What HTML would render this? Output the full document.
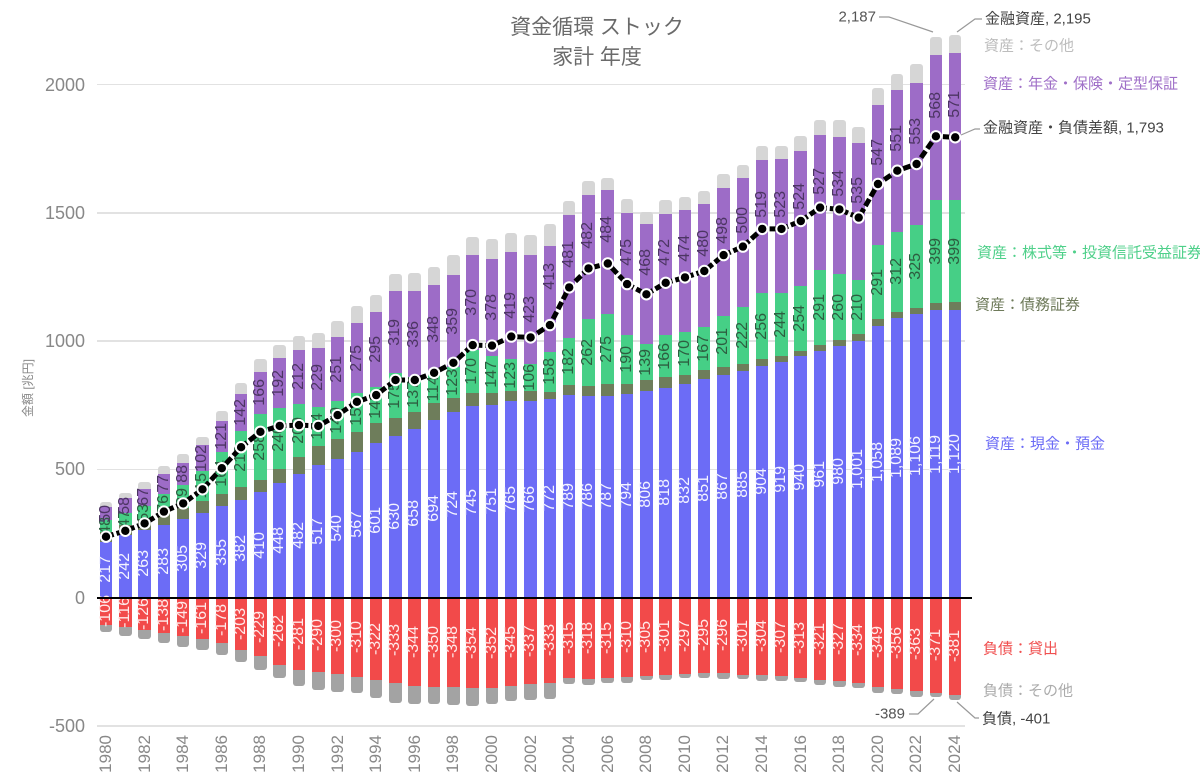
<!DOCTYPE html>
<html><head><meta charset="utf-8">
<style>
body{margin:0;background:#fff}
#c{position:relative;width:1200px;height:781px;overflow:hidden;font-family:"Liberation Sans","Noto Sans CJK JP",sans-serif;background:#fff}
.g{position:absolute;left:97px;width:868px;height:1.5px;background:#e2e2e2}
.yl{position:absolute;right:1115px;height:20px;line-height:20px;font-size:18px;color:#888;text-align:right;white-space:nowrap}
#row{position:absolute;left:96.35px;top:0;height:781px;display:flex}
.sl{position:relative;width:19.3px;height:781px;flex:none}
.p,.n{position:absolute;left:3.4px;width:12.5px;display:flex}
.p{bottom:183.5px;flex-direction:column-reverse}
.n{top:597.5px;flex-direction:column}
.s{height:calc(var(--v)*0.2565px);min-height:0;flex:none;display:flex;align-items:center;justify-content:center;overflow:visible}
.s span{writing-mode:vertical-rl;transform:rotate(180deg);font-size:16px;line-height:12.5px;white-space:nowrap;flex:none}
.s span.u{position:relative;top:-22px}
.c1{background:#6c6cf6;color:#f4f4ff}
.c2{background:#6e7d5b}
.c3{background:#46cf86;color:#2d5e40}
.c4{background:#9d6cc7;color:#4c3563}
.c5{background:#d6d6d6;border-radius:3px 3px 0 0}
.c6{background:#f24a4a;color:#ffeaea}
.c7{background:#a3a3a3;border-radius:0 0 3px 3px}
.xl{position:absolute;top:735px;left:0.65px;width:18px;writing-mode:vertical-rl;transform:rotate(180deg);font-size:17px;line-height:18px;color:#888;white-space:nowrap}
#zero{position:absolute;left:97px;top:596.5px;width:875px;height:2px;background:#000}
#title{position:absolute;left:397px;top:13px;width:400px;text-align:center;font-size:21px;line-height:30px;color:#6a6a6a}
#yt{position:absolute;left:-22px;top:380px;width:100px;text-align:center;font-size:12px;line-height:16px;color:#888;transform:rotate(-90deg)}
svg{position:absolute;left:0;top:0}
</style></head><body>
<div id="c">
<div class="g" style="top:83.75px"></div>
<div class="g" style="top:212px"></div>
<div class="g" style="top:340.25px"></div>
<div class="g" style="top:468.5px"></div>
<div class="g" style="top:725px"></div>
<div class="yl" style="top:74.5px">2000</div>
<div class="yl" style="top:202.75px">1500</div>
<div class="yl" style="top:331px">1000</div>
<div class="yl" style="top:459.25px">500</div>
<div class="yl" style="top:587.5px">0</div>
<div class="yl" style="top:715.75px">-500</div>
<div id="title">資金循環 ストック<br>家計 年度</div>
<div id="yt">金額 [兆円]</div>
<div id="row">
<div class="sl"><div class="p"><div class="s c1" style="--v:217"><span>217</span></div><div class="s c2" style="--v:38"></div><div class="s c3" style="--v:48"><span>48</span></div><div class="s c4" style="--v:50"><span>50</span></div><div class="s c5" style="--v:20"></div></div><div class="n"><div class="s c6" style="--v:106"><span>-106</span></div><div class="s c7" style="--v:30"></div></div><div class="xl">1980</div></div>
<div class="sl"><div class="p"><div class="s c1" style="--v:242"><span>242</span></div><div class="s c2" style="--v:40"></div><div class="s c3" style="--v:47"><span>47</span></div><div class="s c4" style="--v:58"><span>58</span></div><div class="s c5" style="--v:22"></div></div><div class="n"><div class="s c6" style="--v:116"><span>-116</span></div><div class="s c7" style="--v:33"></div></div></div>
<div class="sl"><div class="p"><div class="s c1" style="--v:263"><span>263</span></div><div class="s c2" style="--v:42"></div><div class="s c3" style="--v:53"><span>53</span></div><div class="s c4" style="--v:67"><span>67</span></div><div class="s c5" style="--v:26"></div></div><div class="n"><div class="s c6" style="--v:126"><span>-126</span></div><div class="s c7" style="--v:36"></div></div><div class="xl">1982</div></div>
<div class="sl"><div class="p"><div class="s c1" style="--v:283"><span>283</span></div><div class="s c2" style="--v:45"></div><div class="s c3" style="--v:76"><span>76</span></div><div class="s c4" style="--v:77"><span>77</span></div><div class="s c5" style="--v:32"></div></div><div class="n"><div class="s c6" style="--v:138"><span>-138</span></div><div class="s c7" style="--v:40"></div></div></div>
<div class="sl"><div class="p"><div class="s c1" style="--v:305"><span>305</span></div><div class="s c2" style="--v:43"></div><div class="s c3" style="--v:89"><span>89</span></div><div class="s c4" style="--v:88"><span>88</span></div><div class="s c5" style="--v:34"></div></div><div class="n"><div class="s c6" style="--v:149"><span>-149</span></div><div class="s c7" style="--v:43"></div></div><div class="xl">1984</div></div>
<div class="sl"><div class="p"><div class="s c1" style="--v:329"><span>329</span></div><div class="s c2" style="--v:48"></div><div class="s c3" style="--v:115"><span>115</span></div><div class="s c4" style="--v:102"><span>102</span></div><div class="s c5" style="--v:33"></div></div><div class="n"><div class="s c6" style="--v:161"><span>-161</span></div><div class="s c7" style="--v:44"></div></div></div>
<div class="sl"><div class="p"><div class="s c1" style="--v:355"><span>355</span></div><div class="s c2" style="--v:48"></div><div class="s c3" style="--v:164"><span>164</span></div><div class="s c4" style="--v:121"><span>121</span></div><div class="s c5" style="--v:39"></div></div><div class="n"><div class="s c6" style="--v:178"><span>-178</span></div><div class="s c7" style="--v:45"></div></div><div class="xl">1986</div></div>
<div class="sl"><div class="p"><div class="s c1" style="--v:382"><span>382</span></div><div class="s c2" style="--v:50"></div><div class="s c3" style="--v:218"><span>218</span></div><div class="s c4" style="--v:142"><span>142</span></div><div class="s c5" style="--v:45"></div></div><div class="n"><div class="s c6" style="--v:203"><span>-203</span></div><div class="s c7" style="--v:48"></div></div></div>
<div class="sl"><div class="p"><div class="s c1" style="--v:410"><span>410</span></div><div class="s c2" style="--v:47"></div><div class="s c3" style="--v:258"><span>258</span></div><div class="s c4" style="--v:166"><span>166</span></div><div class="s c5" style="--v:48"></div></div><div class="n"><div class="s c6" style="--v:229"><span>-229</span></div><div class="s c7" style="--v:54"></div></div><div class="xl">1988</div></div>
<div class="sl"><div class="p"><div class="s c1" style="--v:448"><span>448</span></div><div class="s c2" style="--v:52"></div><div class="s c3" style="--v:240"><span>240</span></div><div class="s c4" style="--v:192"><span>192</span></div><div class="s c5" style="--v:52"></div></div><div class="n"><div class="s c6" style="--v:262"><span>-262</span></div><div class="s c7" style="--v:53"></div></div></div>
<div class="sl"><div class="p"><div class="s c1" style="--v:482"><span>482</span></div><div class="s c2" style="--v:64"></div><div class="s c3" style="--v:209"><span>209</span></div><div class="s c4" style="--v:212"><span>212</span></div><div class="s c5" style="--v:52"></div></div><div class="n"><div class="s c6" style="--v:281"><span>-281</span></div><div class="s c7" style="--v:66"></div></div><div class="xl">1990</div></div>
<div class="sl"><div class="p"><div class="s c1" style="--v:517"><span>517</span></div><div class="s c2" style="--v:72"></div><div class="s c3" style="--v:154"><span>154</span></div><div class="s c4" style="--v:229"><span>229</span></div><div class="s c5" style="--v:58"></div></div><div class="n"><div class="s c6" style="--v:290"><span>-290</span></div><div class="s c7" style="--v:71"></div></div></div>
<div class="sl"><div class="p"><div class="s c1" style="--v:540"><span>540</span></div><div class="s c2" style="--v:77"></div><div class="s c3" style="--v:149"><span>149</span></div><div class="s c4" style="--v:251"><span>251</span></div><div class="s c5" style="--v:62"></div></div><div class="n"><div class="s c6" style="--v:300"><span>-300</span></div><div class="s c7" style="--v:68"></div></div><div class="xl">1992</div></div>
<div class="sl"><div class="p"><div class="s c1" style="--v:567"><span>567</span></div><div class="s c2" style="--v:79"></div><div class="s c3" style="--v:150"><span>150</span></div><div class="s c4" style="--v:275"><span>275</span></div><div class="s c5" style="--v:65"></div></div><div class="n"><div class="s c6" style="--v:310"><span>-310</span></div><div class="s c7" style="--v:63"></div></div></div>
<div class="sl"><div class="p"><div class="s c1" style="--v:601"><span>601</span></div><div class="s c2" style="--v:78"></div><div class="s c3" style="--v:140"><span>140</span></div><div class="s c4" style="--v:295"><span>295</span></div><div class="s c5" style="--v:65"></div></div><div class="n"><div class="s c6" style="--v:322"><span>-322</span></div><div class="s c7" style="--v:68"></div></div><div class="xl">1994</div></div>
<div class="sl"><div class="p"><div class="s c1" style="--v:630"><span>630</span></div><div class="s c2" style="--v:71"></div><div class="s c3" style="--v:175"><span>175</span></div><div class="s c4" style="--v:319"><span>319</span></div><div class="s c5" style="--v:65"></div></div><div class="n"><div class="s c6" style="--v:333"><span>-333</span></div><div class="s c7" style="--v:79"></div></div></div>
<div class="sl"><div class="p"><div class="s c1" style="--v:658"><span>658</span></div><div class="s c2" style="--v:64"></div><div class="s c3" style="--v:137"><span>137</span></div><div class="s c4" style="--v:336"><span>336</span></div><div class="s c5" style="--v:69"></div></div><div class="n"><div class="s c6" style="--v:344"><span>-344</span></div><div class="s c7" style="--v:72"></div></div><div class="xl">1996</div></div>
<div class="sl"><div class="p"><div class="s c1" style="--v:694"><span>694</span></div><div class="s c2" style="--v:63"></div><div class="s c3" style="--v:114"><span>114</span></div><div class="s c4" style="--v:348"><span>348</span></div><div class="s c5" style="--v:71"></div></div><div class="n"><div class="s c6" style="--v:350"><span>-350</span></div><div class="s c7" style="--v:64"></div></div></div>
<div class="sl"><div class="p"><div class="s c1" style="--v:724"><span>724</span></div><div class="s c2" style="--v:52"></div><div class="s c3" style="--v:123"><span>123</span></div><div class="s c4" style="--v:359"><span>359</span></div><div class="s c5" style="--v:77"></div></div><div class="n"><div class="s c6" style="--v:348"><span>-348</span></div><div class="s c7" style="--v:72"></div></div><div class="xl">1998</div></div>
<div class="sl"><div class="p"><div class="s c1" style="--v:745"><span>745</span></div><div class="s c2" style="--v:51"></div><div class="s c3" style="--v:170"><span>170</span></div><div class="s c4" style="--v:370"><span>370</span></div><div class="s c5" style="--v:71"></div></div><div class="n"><div class="s c6" style="--v:354"><span>-354</span></div><div class="s c7" style="--v:69"></div></div></div>
<div class="sl"><div class="p"><div class="s c1" style="--v:751"><span>751</span></div><div class="s c2" style="--v:45"></div><div class="s c3" style="--v:147"><span>147</span></div><div class="s c4" style="--v:378"><span>378</span></div><div class="s c5" style="--v:76"></div></div><div class="n"><div class="s c6" style="--v:352"><span>-352</span></div><div class="s c7" style="--v:63"></div></div><div class="xl">2000</div></div>
<div class="sl"><div class="p"><div class="s c1" style="--v:765"><span>765</span></div><div class="s c2" style="--v:40"></div><div class="s c3" style="--v:123"><span>123</span></div><div class="s c4" style="--v:419"><span>419</span></div><div class="s c5" style="--v:75"></div></div><div class="n"><div class="s c6" style="--v:345"><span>-345</span></div><div class="s c7" style="--v:60"></div></div></div>
<div class="sl"><div class="p"><div class="s c1" style="--v:766"><span>766</span></div><div class="s c2" style="--v:39"></div><div class="s c3" style="--v:106"><span>106</span></div><div class="s c4" style="--v:423"><span>423</span></div><div class="s c5" style="--v:79"></div></div><div class="n"><div class="s c6" style="--v:337"><span>-337</span></div><div class="s c7" style="--v:62"></div></div><div class="xl">2002</div></div>
<div class="sl"><div class="p"><div class="s c1" style="--v:772"><span>772</span></div><div class="s c2" style="--v:29"></div><div class="s c3" style="--v:158"><span>158</span></div><div class="s c4" style="--v:413"><span class="u">413</span></div><div class="s c5" style="--v:84"></div></div><div class="n"><div class="s c6" style="--v:333"><span>-333</span></div><div class="s c7" style="--v:61"></div></div></div>
<div class="sl"><div class="p"><div class="s c1" style="--v:789"><span>789</span></div><div class="s c2" style="--v:39"></div><div class="s c3" style="--v:182"><span>182</span></div><div class="s c4" style="--v:481"><span class="u">481</span></div><div class="s c5" style="--v:55"></div></div><div class="n"><div class="s c6" style="--v:315"><span>-315</span></div><div class="s c7" style="--v:22"></div></div><div class="xl">2004</div></div>
<div class="sl"><div class="p"><div class="s c1" style="--v:786"><span>786</span></div><div class="s c2" style="--v:39"></div><div class="s c3" style="--v:262"><span>262</span></div><div class="s c4" style="--v:482"><span class="u">482</span></div><div class="s c5" style="--v:55"></div></div><div class="n"><div class="s c6" style="--v:318"><span>-318</span></div><div class="s c7" style="--v:23"></div></div></div>
<div class="sl"><div class="p"><div class="s c1" style="--v:787"><span>787</span></div><div class="s c2" style="--v:44"></div><div class="s c3" style="--v:275"><span>275</span></div><div class="s c4" style="--v:484"><span class="u">484</span></div><div class="s c5" style="--v:45"></div></div><div class="n"><div class="s c6" style="--v:315"><span>-315</span></div><div class="s c7" style="--v:18"></div></div><div class="xl">2006</div></div>
<div class="sl"><div class="p"><div class="s c1" style="--v:794"><span>794</span></div><div class="s c2" style="--v:40"></div><div class="s c3" style="--v:190"><span>190</span></div><div class="s c4" style="--v:475"><span class="u">475</span></div><div class="s c5" style="--v:55"></div></div><div class="n"><div class="s c6" style="--v:310"><span>-310</span></div><div class="s c7" style="--v:22"></div></div></div>
<div class="sl"><div class="p"><div class="s c1" style="--v:806"><span>806</span></div><div class="s c2" style="--v:42"></div><div class="s c3" style="--v:139"><span>139</span></div><div class="s c4" style="--v:468"><span class="u">468</span></div><div class="s c5" style="--v:49"></div></div><div class="n"><div class="s c6" style="--v:305"><span>-305</span></div><div class="s c7" style="--v:17"></div></div><div class="xl">2008</div></div>
<div class="sl"><div class="p"><div class="s c1" style="--v:818"><span>818</span></div><div class="s c2" style="--v:40"></div><div class="s c3" style="--v:166"><span>166</span></div><div class="s c4" style="--v:472"><span class="u">472</span></div><div class="s c5" style="--v:54"></div></div><div class="n"><div class="s c6" style="--v:301"><span>-301</span></div><div class="s c7" style="--v:22"></div></div></div>
<div class="sl"><div class="p"><div class="s c1" style="--v:832"><span>832</span></div><div class="s c2" style="--v:35"></div><div class="s c3" style="--v:170"><span>170</span></div><div class="s c4" style="--v:474"><span class="u">474</span></div><div class="s c5" style="--v:52"></div></div><div class="n"><div class="s c6" style="--v:297"><span>-297</span></div><div class="s c7" style="--v:18"></div></div><div class="xl">2010</div></div>
<div class="sl"><div class="p"><div class="s c1" style="--v:851"><span>851</span></div><div class="s c2" style="--v:36"></div><div class="s c3" style="--v:167"><span>167</span></div><div class="s c4" style="--v:480"><span class="u">480</span></div><div class="s c5" style="--v:51"></div></div><div class="n"><div class="s c6" style="--v:295"><span>-295</span></div><div class="s c7" style="--v:17"></div></div></div>
<div class="sl"><div class="p"><div class="s c1" style="--v:867"><span>867</span></div><div class="s c2" style="--v:30"></div><div class="s c3" style="--v:201"><span>201</span></div><div class="s c4" style="--v:498"><span class="u">498</span></div><div class="s c5" style="--v:55"></div></div><div class="n"><div class="s c6" style="--v:296"><span>-296</span></div><div class="s c7" style="--v:20"></div></div><div class="xl">2012</div></div>
<div class="sl"><div class="p"><div class="s c1" style="--v:885"><span>885</span></div><div class="s c2" style="--v:27"></div><div class="s c3" style="--v:222"><span>222</span></div><div class="s c4" style="--v:500"><span class="u">500</span></div><div class="s c5" style="--v:52"></div></div><div class="n"><div class="s c6" style="--v:301"><span>-301</span></div><div class="s c7" style="--v:17"></div></div></div>
<div class="sl"><div class="p"><div class="s c1" style="--v:904"><span>904</span></div><div class="s c2" style="--v:26"></div><div class="s c3" style="--v:256"><span>256</span></div><div class="s c4" style="--v:519"><span class="u">519</span></div><div class="s c5" style="--v:56"></div></div><div class="n"><div class="s c6" style="--v:304"><span>-304</span></div><div class="s c7" style="--v:20"></div></div><div class="xl">2014</div></div>
<div class="sl"><div class="p"><div class="s c1" style="--v:919"><span>919</span></div><div class="s c2" style="--v:23"></div><div class="s c3" style="--v:244"><span>244</span></div><div class="s c4" style="--v:523"><span class="u">523</span></div><div class="s c5" style="--v:52"></div></div><div class="n"><div class="s c6" style="--v:307"><span>-307</span></div><div class="s c7" style="--v:17"></div></div></div>
<div class="sl"><div class="p"><div class="s c1" style="--v:940"><span>940</span></div><div class="s c2" style="--v:22"></div><div class="s c3" style="--v:254"><span>254</span></div><div class="s c4" style="--v:524"><span class="u">524</span></div><div class="s c5" style="--v:59"></div></div><div class="n"><div class="s c6" style="--v:313"><span>-313</span></div><div class="s c7" style="--v:18"></div></div><div class="xl">2016</div></div>
<div class="sl"><div class="p"><div class="s c1" style="--v:961"><span>961</span></div><div class="s c2" style="--v:23"></div><div class="s c3" style="--v:291"><span>291</span></div><div class="s c4" style="--v:527"><span class="u">527</span></div><div class="s c5" style="--v:60"></div></div><div class="n"><div class="s c6" style="--v:321"><span>-321</span></div><div class="s c7" style="--v:21"></div></div></div>
<div class="sl"><div class="p"><div class="s c1" style="--v:980"><span>980</span></div><div class="s c2" style="--v:23"></div><div class="s c3" style="--v:260"><span>260</span></div><div class="s c4" style="--v:534"><span class="u">534</span></div><div class="s c5" style="--v:65"></div></div><div class="n"><div class="s c6" style="--v:327"><span>-327</span></div><div class="s c7" style="--v:22"></div></div><div class="xl">2018</div></div>
<div class="sl"><div class="p"><div class="s c1" style="--v:1001"><span>1,001</span></div><div class="s c2" style="--v:25"></div><div class="s c3" style="--v:210"><span>210</span></div><div class="s c4" style="--v:535"><span class="u">535</span></div><div class="s c5" style="--v:62"></div></div><div class="n"><div class="s c6" style="--v:334"><span>-334</span></div><div class="s c7" style="--v:18"></div></div></div>
<div class="sl"><div class="p"><div class="s c1" style="--v:1058"><span>1,058</span></div><div class="s c2" style="--v:26"></div><div class="s c3" style="--v:291"><span>291</span></div><div class="s c4" style="--v:547"><span class="u">547</span></div><div class="s c5" style="--v:63"></div></div><div class="n"><div class="s c6" style="--v:349"><span>-349</span></div><div class="s c7" style="--v:24"></div></div><div class="xl">2020</div></div>
<div class="sl"><div class="p"><div class="s c1" style="--v:1089"><span>1,089</span></div><div class="s c2" style="--v:26"></div><div class="s c3" style="--v:312"><span>312</span></div><div class="s c4" style="--v:551"><span class="u">551</span></div><div class="s c5" style="--v:63"></div></div><div class="n"><div class="s c6" style="--v:356"><span>-356</span></div><div class="s c7" style="--v:21"></div></div></div>
<div class="sl"><div class="p"><div class="s c1" style="--v:1106"><span>1,106</span></div><div class="s c2" style="--v:23"></div><div class="s c3" style="--v:325"><span>325</span></div><div class="s c4" style="--v:553"><span class="u">553</span></div><div class="s c5" style="--v:72"></div></div><div class="n"><div class="s c6" style="--v:363"><span>-363</span></div><div class="s c7" style="--v:26"></div></div><div class="xl">2022</div></div>
<div class="sl"><div class="p"><div class="s c1" style="--v:1119"><span>1,119</span></div><div class="s c2" style="--v:30"></div><div class="s c3" style="--v:399"><span>399</span></div><div class="s c4" style="--v:568"><span class="u">568</span></div><div class="s c5" style="--v:71"></div></div><div class="n"><div class="s c6" style="--v:371"><span>-371</span></div><div class="s c7" style="--v:18"></div></div></div>
<div class="sl"><div class="p"><div class="s c1" style="--v:1120"><span>1,120</span></div><div class="s c2" style="--v:32"></div><div class="s c3" style="--v:399"><span>399</span></div><div class="s c4" style="--v:571"><span class="u">571</span></div><div class="s c5" style="--v:73"></div></div><div class="n"><div class="s c6" style="--v:381"><span>-381</span></div><div class="s c7" style="--v:20"></div></div><div class="xl">2024</div></div>
</div>
<div id="zero"></div>
<svg width="1200" height="781" viewBox="0 0 1200 781" font-family="Liberation Sans, Noto Sans CJK JP, sans-serif">
<polyline fill="none" stroke="#000" stroke-width="5" stroke-dasharray="8,3" points="106,536.7 125.3,530.8 144.6,523.4 163.9,511.6 183.2,503.4 202.5,489.3 221.8,468.2 241.1,447.2 260.4,431.8 279.7,425.9 299,425.1 318.3,425.9 337.6,415.1 356.9,401.8 376.2,395.1 395.5,380 414.8,380 434.1,372.8 453.4,362.8 472.7,345.1 492,345.6 511.3,336.6 530.6,337.4 549.9,325.1 569.2,287.4 588.5,268.4 607.8,263.5 627.1,284.1 646.4,294.3 665.7,282.8 685,277.4 704.3,271 723.6,255.1 742.9,246.6 762.2,228.9 781.5,228.9 800.8,221 820.1,207.6 839.4,209.4 858.7,217.6 878,184 897.3,170.7 916.6,164 935.9,136.3 955.2,137.3"/>
<g fill="#000" stroke="#fff" stroke-width="2">
<circle cx="106" cy="536.7" r="5.2"/><circle cx="125.3" cy="530.8" r="5.2"/><circle cx="144.6" cy="523.4" r="5.2"/><circle cx="163.9" cy="511.6" r="5.2"/><circle cx="183.2" cy="503.4" r="5.2"/><circle cx="202.5" cy="489.3" r="5.2"/><circle cx="221.8" cy="468.2" r="5.2"/><circle cx="241.1" cy="447.2" r="5.2"/><circle cx="260.4" cy="431.8" r="5.2"/><circle cx="279.7" cy="425.9" r="5.2"/><circle cx="299" cy="425.1" r="5.2"/><circle cx="318.3" cy="425.9" r="5.2"/><circle cx="337.6" cy="415.1" r="5.2"/><circle cx="356.9" cy="401.8" r="5.2"/><circle cx="376.2" cy="395.1" r="5.2"/><circle cx="395.5" cy="380" r="5.2"/><circle cx="414.8" cy="380" r="5.2"/><circle cx="434.1" cy="372.8" r="5.2"/><circle cx="453.4" cy="362.8" r="5.2"/><circle cx="472.7" cy="345.1" r="5.2"/><circle cx="492" cy="345.6" r="5.2"/><circle cx="511.3" cy="336.6" r="5.2"/><circle cx="530.6" cy="337.4" r="5.2"/><circle cx="549.9" cy="325.1" r="5.2"/><circle cx="569.2" cy="287.4" r="5.2"/><circle cx="588.5" cy="268.4" r="5.2"/><circle cx="607.8" cy="263.5" r="5.2"/><circle cx="627.1" cy="284.1" r="5.2"/><circle cx="646.4" cy="294.3" r="5.2"/><circle cx="665.7" cy="282.8" r="5.2"/><circle cx="685" cy="277.4" r="5.2"/><circle cx="704.3" cy="271" r="5.2"/><circle cx="723.6" cy="255.1" r="5.2"/><circle cx="742.9" cy="246.6" r="5.2"/><circle cx="762.2" cy="228.9" r="5.2"/><circle cx="781.5" cy="228.9" r="5.2"/><circle cx="800.8" cy="221" r="5.2"/><circle cx="820.1" cy="207.6" r="5.2"/><circle cx="839.4" cy="209.4" r="5.2"/><circle cx="858.7" cy="217.6" r="5.2"/><circle cx="878" cy="184" r="5.2"/><circle cx="897.3" cy="170.7" r="5.2"/><circle cx="916.6" cy="164" r="5.2"/><circle cx="935.9" cy="136.3" r="5.2"/><circle cx="955.2" cy="137.3" r="5.2"/>
</g>
<g fill="none" stroke="#999" stroke-width="1.2">
<polyline points="879,17 889,17 933,32"/>
<polyline points="957,32 975,19 982,19"/>
<polyline points="961,135 975,129 980,129"/>
<polyline points="957,702 975,718 979,718"/>
<polyline points="909,714 918,714 934,699"/>
</g>
<g font-size="15" dominant-baseline="central">
<text x="876" y="17" text-anchor="end" fill="#555">2,187</text>
<text x="985" y="19" fill="#444">金融資産, 2,195</text>
<text x="984" y="46" fill="#bdbdbd">資産：その他</text>
<text x="983" y="84" fill="#a070c8">資産：年金・保険・定型保証</text>
<text x="983" y="128" fill="#444">金融資産・負債差額, 1,793</text>
<text x="977" y="253" fill="#4fd08a">資産：株式等・投資信託受益証券</text>
<text x="975" y="305" fill="#6e7a5a">資産：債務証券</text>
<text x="985" y="444" fill="#6c6cf6">資産：現金・預金</text>
<text x="983" y="649" fill="#f05050">負債：貸出</text>
<text x="983" y="691" fill="#ababab">負債：その他</text>
<text x="982" y="719" fill="#444">負債, -401</text>
<text x="905" y="714" text-anchor="end" fill="#555">-389</text>
</g>
</svg>
</div>
</body></html>
